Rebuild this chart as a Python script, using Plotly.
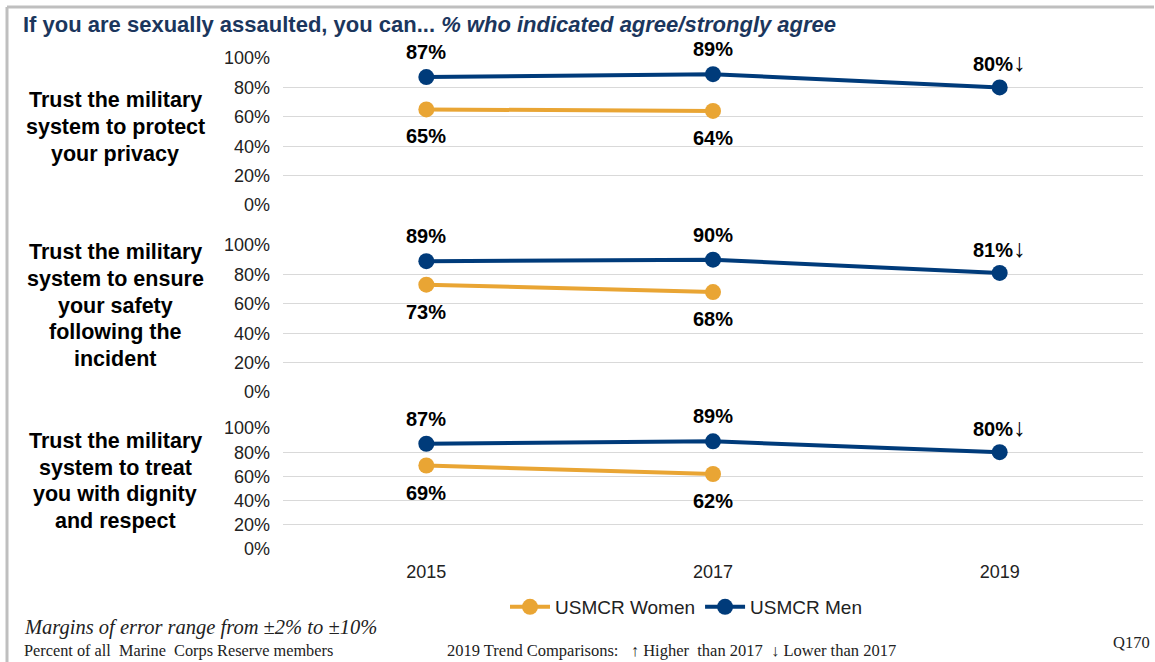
import plotly.graph_objects as go

years = ["2015", "2017", "2019"]
questions = [
    ["Trust the military", "system to protect", "your privacy"],
    ["Trust the military", "system to ensure", "your safety", "following the", "incident"],
    ["Trust the military", "system to treat", "you with dignity", "and respect"],
]
men = [[87, 89, 80], [89, 90, 81], [87, 89, 80]]
women = [[65, 64], [73, 68], [69, 62]]
men_trend = [["", "", "↓"], ["", "", "↓"], ["", "", "↓"]]
ytick_vals = [0, 20, 40, 60, 80, 100]
ytick_text = ["0%", "20%", "40%", "60%", "80%", "100%"]

NAVY = "#003B7A"
GOLD = "#E9A534"
W, H = 1155, 662
SANS = "Liberation Sans, Arial, sans-serif"
SERIF = "Liberation Serif, Times New Roman, serif"

def py(px):
    return 1 - px / H

xpos = list(range(len(years)))

# panel pixel extents (100% line, 0% line)
panels = [(58, 205), (245, 392), (428, 549)]
label_centers = [127, 305.5, 481]
LINE_STEP = 26.6

fig = go.Figure()
ann = []
for i in range(3):
    sfx = "" if i == 0 else str(i + 1)
    xw = xpos[:len(women[i])]
    fig.add_trace(go.Scatter(
        x=xw, y=women[i], mode="lines+markers",
        name="USMCR Women", legendgroup="w", showlegend=(i == 0),
        line=dict(color=GOLD, width=4), marker=dict(color=GOLD, size=16),
        xaxis="x" + sfx, yaxis="y" + sfx, cliponaxis=False))
    fig.add_trace(go.Scatter(
        x=xpos, y=men[i], mode="lines+markers",
        name="USMCR Men", legendgroup="m", showlegend=(i == 0),
        line=dict(color=NAVY, width=4), marker=dict(color=NAVY, size=16),
        xaxis="x" + sfx, yaxis="y" + sfx, cliponaxis=False))
    for x, v, t in zip(xpos, men[i], men_trend[i]):
        arrow = f'<span style="font-size:25px">{t}</span>' if t else ""
        ann.append(dict(x=x, y=v, xref="x" + sfx, yref="y" + sfx,
                        text=f"<b>{v}%</b>{arrow}", showarrow=False, yshift=25,
                        font=dict(family=SANS, size=20, color="#000")))
    for x, v in zip(xw, women[i]):
        ann.append(dict(x=x, y=v, xref="x" + sfx, yref="y" + sfx,
                        text=f"<b>{v}%</b>", showarrow=False, yshift=-27,
                        font=dict(family=SANS, size=20, color="#000")))
    n = len(questions[i])
    for k, line in enumerate(questions[i]):
        ypx = label_centers[i] + (k - (n - 1) / 2) * LINE_STEP
        ann.append(dict(x=115 / W, y=py(ypx), xref="paper", yref="paper",
                        text=f"<b>{line}</b>", showarrow=False,
                        xanchor="center", yanchor="middle",
                        font=dict(family=SANS, size=21.5, color="#000")))
    top, bot = panels[i]
    fig.layout["yaxis" + sfx] = dict(
        domain=[py(bot), py(top)], range=[0, 100], tickvals=ytick_vals, ticktext=ytick_text,
        showgrid=True, gridcolor="#D9D9D9", gridwidth=1, zeroline=False, showline=False,
        ticks="", ticklabelstandoff=12, anchor="x" + sfx, automargin=False,
        tickfont=dict(family=SANS, size=18, color="#222"), fixedrange=True)
    fig.layout["xaxis" + sfx] = dict(
        domain=[283 / W, 1143 / W], range=[-0.5, len(years) - 0.5],
        tickvals=xpos, ticktext=years, automargin=False,
        showgrid=False, zeroline=False, showline=False, ticks="",
        showticklabels=(i == 2), ticklabelstandoff=10, anchor="y" + sfx,
        tickfont=dict(family=SANS, size=18, color="#222"), fixedrange=True)

# title
ann.append(dict(x=21 / W, y=py(25), xref="paper", yref="paper", xanchor="left", yanchor="middle",
                showarrow=False,
                text="<b>If you are sexually assaulted, you can... <i>% who indicated agree/strongly agree</i></b>",
                font=dict(family=SANS, size=22, color="#1B365D")))
# footnotes
ann.append(dict(x=22 / W, y=py(627), xref="paper", yref="paper", xanchor="left", yanchor="middle",
                showarrow=False, text="<i>Margins of error range from ±2% to ±10%</i>",
                font=dict(family=SERIF, size=20.5, color="#222")))
ann.append(dict(x=22 / W, y=py(650), xref="paper", yref="paper", xanchor="left", yanchor="middle",
                showarrow=False, text="Percent of all  Marine  Corps Reserve members",
                font=dict(family=SERIF, size=16.3, color="#222")))
ann.append(dict(x=445 / W, y=py(650), xref="paper", yref="paper", xanchor="left", yanchor="middle",
                showarrow=False, text="2019 Trend Comparisons:   ↑ Higher  than 2017  ↓ Lower than 2017",
                font=dict(family=SERIF, size=16.5, color="#222")))
ann.append(dict(x=1152 / W, y=py(642), xref="paper", yref="paper", xanchor="right", yanchor="middle",
                showarrow=False, text="Q170",
                font=dict(family=SERIF, size=16.5, color="#222")))

fig.update_layout(
    width=W, height=H, margin=dict(l=0, r=0, t=0, b=0, pad=0, autoexpand=False),
    paper_bgcolor="white", plot_bgcolor="white",
    annotations=ann,
    showlegend=True,
    legend=dict(orientation="h", x=505 / W, y=py(607), xanchor="left", yanchor="middle",
                font=dict(family=SANS, size=19, color="#222"),
                itemwidth=40, bgcolor="rgba(0,0,0,0)", traceorder="normal"),
    shapes=[
        dict(type="line", xref="paper", yref="paper", x0=7 / W, x1=1154 / W, y0=py(7), y1=py(7),
             line=dict(color="#BFBFBF", width=3)),
        dict(type="line", xref="paper", yref="paper", x0=7 / W, x1=7 / W, y0=py(7), y1=0,
             line=dict(color="#BFBFBF", width=3)),
    ],
)

fig.write_html("out.html", config={"displayModeBar": False},
               post_script="document.body.style.margin='0';document.body.style.padding='0';")
